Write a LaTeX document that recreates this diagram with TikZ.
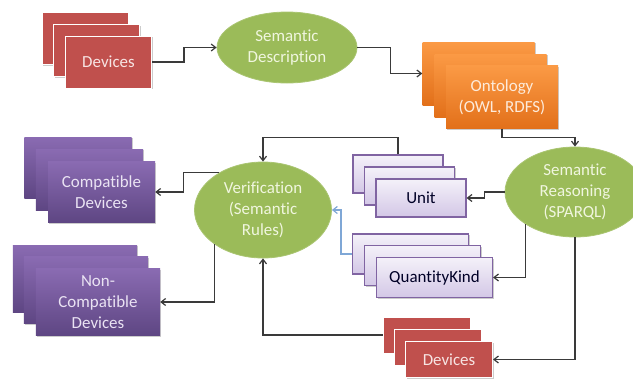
\documentclass[tikz,border=0pt]{standalone}
\usepackage{fontspec}
\setmainfont{Carlito}[Ligatures=NoCommon]
\usetikzlibrary{arrows.meta,shapes.geometric,shadows}
\definecolor{devred}{HTML}{C0504D}
\definecolor{devtext}{HTML}{F7E4E3}
\definecolor{ellgreen}{HTML}{9BBB59}
\definecolor{elltext}{HTML}{F0F6DF}
\definecolor{orangetop}{HTML}{FB9A45}
\definecolor{orangebot}{HTML}{E2701A}
\definecolor{orangetext}{HTML}{FDEBDB}
\definecolor{purptop}{HTML}{8A6BB2}
\definecolor{purpbot}{HTML}{5E4683}
\definecolor{purptext}{HTML}{EAE3F3}
\definecolor{lilactop}{HTML}{F4F1F9}
\definecolor{lilacbot}{HTML}{D3C7E6}
\definecolor{lilacline}{HTML}{8064A2}
\definecolor{linegray}{HTML}{3A3A3A}
\definecolor{linkblue}{HTML}{7FA7D6}
\begin{document}
\begin{tikzpicture}[x=1bp,y=-1bp,
  font=\fontsize{17}{21}\selectfont,
  shad/.style={drop shadow={shadow xshift=1.2bp,shadow yshift=-1.2bp,fill=black,opacity=0.2}},
  redbox/.style={rectangle,inner sep=0pt,fill=devred,draw=white,line width=1bp,text=devtext,shad},
  orangebox/.style={rectangle,inner sep=0pt,top color=orangetop,bottom color=orangebot,draw=none,text=orangetext,align=center,shad},
  purplebox/.style={rectangle,inner sep=0pt,top color=purptop,bottom color=purpbot,draw=none,text=purptext,align=center,shad},
  lilacbox/.style={rectangle,inner sep=0pt,top color=lilactop,bottom color=lilacbot,draw=lilacline,line width=1.1bp,text=black!85!blue,shad},
  greenell/.style={ellipse,inner sep=0pt,fill=ellgreen,draw=ellgreen!85!white,line width=0.8bp,text=elltext,align=center},
  conn/.style={draw=linegray,line width=1.2bp,-{Straight Barb[length=4.5bp,width=7bp]}},
  bconn/.style={draw=linkblue,line width=1.2bp,-{Straight Barb[length=4.5bp,width=7bp]}}
]
\useasboundingbox (0,0) rectangle (633,378);

% top-left devices stack
\node[redbox,minimum width=86bp,minimum height=52bp] (dev1a) at (85,38.5) {};
\node[redbox,minimum width=86bp,minimum height=52bp] (dev1b) at (96.5,50.5) {};
\node[redbox,minimum width=86bp,minimum height=52bp] (dev1c) at (108.5,62) {Devices};

% semantic description
\node[greenell,minimum width=140bp,minimum height=71bp] (sd) at (287,47.5) {Semantic\\Description};

% ontology stack
\node[orangebox,minimum width=112bp,minimum height=63bp] (onta) at (478.5,73.5) {};
\node[orangebox,minimum width=112bp,minimum height=63bp] (ontb) at (490.5,85.5) {};
\node[orangebox,minimum width=112bp,minimum height=63bp] (ontc) at (502,97) {Ontology\\(OWL, RDFS)};

% semantic reasoning
\node[greenell,minimum width=140bp,minimum height=90bp] (sr) at (575,192) {Semantic\\Reasoning\\(SPARQL)};

% unit stack
\node[lilacbox,minimum width=90bp,minimum height=38bp] (unita) at (398,174) {};
\node[lilacbox,minimum width=90bp,minimum height=38bp] (unitb) at (409.5,186) {};
\node[lilacbox,minimum width=90bp,minimum height=38bp] (unitc) at (421,198) {Unit};

% quantity kind stack
\node[lilacbox,minimum width=116bp,minimum height=40bp] (qka) at (410.5,254) {};
\node[lilacbox,minimum width=116bp,minimum height=40bp] (qkb) at (422.5,265.5) {};
\node[lilacbox,minimum width=116bp,minimum height=40bp] (qkc) at (434.5,277.5) {QuantityKind};

% verification
\node[greenell,minimum width=137bp,minimum height=96bp] (ver) at (263,210) {Verification\\(Semantic\\Rules)};

% compatible devices
\node[purplebox,minimum width=107bp,minimum height=61bp] (compa) at (78,167.5) {};
\node[purplebox,minimum width=107bp,minimum height=61bp] (compb) at (89.5,179.5) {};
\node[purplebox,minimum width=107bp,minimum height=61bp] (compc) at (101.5,192) {Compatible\\Devices};

% non-compatible devices
\node[purplebox,minimum width=124bp,minimum height=67bp] (ncompa) at (75,278.5) {};
\node[purplebox,minimum width=124bp,minimum height=67bp] (ncompb) at (86,290) {};
\node[purplebox,minimum width=124bp,minimum height=67bp] (ncompc) at (98,302) {Non-\\Compatible\\Devices};

% bottom devices stack
\node[redbox,minimum width=87bp,minimum height=36bp] (dev2a) at (426.5,335) {};
\node[redbox,minimum width=87bp,minimum height=36bp] (dev2b) at (437.5,347) {};
\node[redbox,minimum width=87bp,minimum height=36bp] (dev2c) at (449,359.5) {Devices};

% connectors
\draw[conn] (dev1c.east) -- ++(32,0) |- (sd.west);
\draw[conn] (sd.east) -- ++(33,0) |- (onta.west);
\draw[conn] (ontc.south) -- ++(0,9) -| (sr.north);
\draw[conn] (sr.west) -- ++(-20,0) |- (unitc.east);
\draw[conn] (sr.south west) |- (qkc.east);
\draw[conn] (sr.south) |- (dev2c.east);
\draw[conn] (unita.north) -- ++(0,-17) -| (ver.north);
\draw[bconn] (qka.west) -- ++(-11,0) |- (ver.east);
\draw[conn] (ver.140) -- ++(-35,0) |- (compc.east);
\draw[conn] (ver.south west) |- (ncompc.east);
\draw[conn] (dev2a.west) -| (ver.south);
\end{tikzpicture}
\end{document}
